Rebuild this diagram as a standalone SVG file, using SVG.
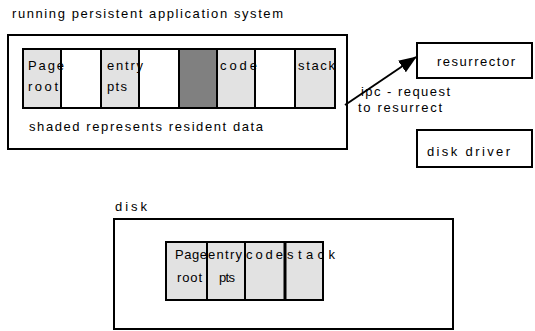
<svg xmlns="http://www.w3.org/2000/svg" width="535" height="331" viewBox="0 0 535 331">
<style>
text{font-family:"Liberation Sans",Arial,sans-serif;font-size:13px;fill:#000}
.box{fill:#fff;stroke:#000;stroke-width:2}
.lg{fill:#e2e2e2;stroke:#000;stroke-width:2}
.wh{fill:#fff;stroke:#000;stroke-width:2}
.dg{fill:#808080;stroke:#000;stroke-width:2}
.conn{stroke:#000;stroke-width:2;fill:none}
</style>
<defs>
<marker id="ah2" markerWidth="18" markerHeight="14" refX="17" refY="7" orient="auto" markerUnits="userSpaceOnUse" viewBox="0 0 18 14">
<path d="M0,0 L18,7 L0,14 Z" fill="#000"/>
</marker>
</defs>
<text x="12" y="18" textLength="271" lengthAdjust="spacing">running persistent application system</text>
<g id="system">
<rect class="box" x="8" y="35" width="339" height="114"/>
<rect class="lg" x="23" y="49" width="38" height="59"/>
<rect class="wh" x="61" y="49" width="40" height="59"/>
<rect class="lg" x="101" y="49" width="38" height="59"/>
<rect class="wh" x="139" y="49" width="40" height="59"/>
<rect class="dg" x="179" y="49" width="38" height="59"/>
<rect class="lg" x="217" y="49" width="38" height="59"/>
<rect class="wh" x="255" y="49" width="40" height="59"/>
<rect class="lg" x="295" y="49" width="40" height="59"/>
<text x="28" y="70" textLength="36" lengthAdjust="spacing">Page</text>
<text x="28" y="91" textLength="30" lengthAdjust="spacing">root</text>
<text x="107" y="70" textLength="36" lengthAdjust="spacing">entry</text>
<text x="107" y="91" textLength="20" lengthAdjust="spacing">pts</text>
<text x="220" y="70" textLength="37" lengthAdjust="spacing">code</text>
<text x="298" y="70" textLength="37" lengthAdjust="spacing">stack</text>
<text x="29" y="131" textLength="234" lengthAdjust="spacing">shaded represents resident data</text>
</g>
<g id="resurrector">
<rect class="box" x="417" y="43" width="115" height="35"/>
<text x="437" y="66" textLength="78" lengthAdjust="spacing">resurrector</text>
</g>
<g id="diskdriver">
<rect class="box" x="417" y="130" width="115" height="37"/>
<text x="427" y="156" textLength="83" lengthAdjust="spacing">disk driver</text>
</g>
<g id="disk">
<text x="115" y="211" textLength="32" lengthAdjust="spacing">disk</text>
<rect class="box" x="114" y="219" width="339" height="110"/>
<rect class="lg" x="166" y="242" width="41" height="58"/>
<rect class="lg" x="207" y="242" width="38" height="58"/>
<rect class="lg" x="245" y="242" width="40" height="58"/>
<rect class="lg" x="285" y="242" width="38" height="58"/>
<line x1="285" y1="242" x2="285" y2="300" stroke="#000" stroke-width="3"/>
<text x="175" y="259" textLength="32" lengthAdjust="spacing">Page</text>
<text x="177" y="282" textLength="25" lengthAdjust="spacing">root</text>
<text x="208" y="259" textLength="34" lengthAdjust="spacing">entry</text>
<text x="219" y="282" textLength="16" lengthAdjust="spacing">pts</text>
<text x="246" y="259" textLength="37" lengthAdjust="spacing">code</text>
<text x="287" y="259" textLength="48" lengthAdjust="spacing">stack</text>
</g>
<g id="connectors">
<line class="conn" x1="345" y1="105" x2="416" y2="57" marker-end="url(#ah2)"/>
<text x="361" y="96" textLength="89" lengthAdjust="spacing">ipc - request</text>
<text x="358" y="112" textLength="84" lengthAdjust="spacing">to resurrect</text>
</g>
</svg>
